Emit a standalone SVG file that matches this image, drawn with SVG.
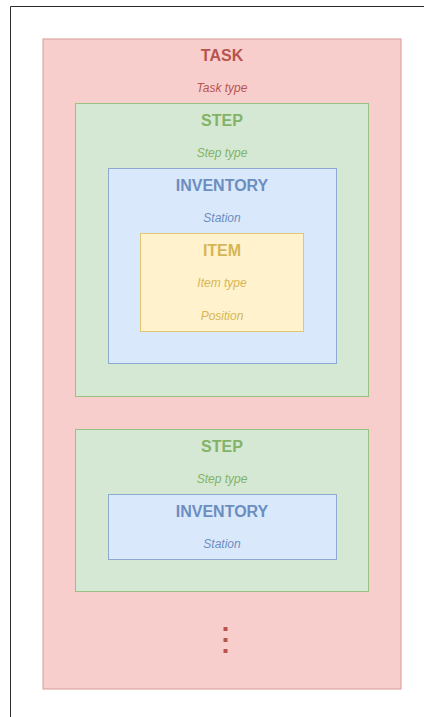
<svg xmlns="http://www.w3.org/2000/svg" width="424" height="717" viewBox="0 0 424 717">
<style>
.title{font-family:"Liberation Sans",Arial,sans-serif;font-size:16px;font-weight:bold;text-anchor:middle}
.sub{font-family:"Liberation Sans",Arial,sans-serif;font-size:12px;font-style:italic;text-anchor:middle}
.task .box{fill:#f8cecc;stroke:#d99a97}
.task text{fill:#b85450}
.dot{fill:#b85450;stroke:none}
.step .box{fill:#d5e8d4;stroke:#97c282}
.step text{fill:#82b366}
.inv .box{fill:#dae8fc;stroke:#8eaad3}
.inv text{fill:#6c8ebf}
.item .box{fill:#fff2cc;stroke:#e0c675}
.item text{fill:#d6b656}
</style>
<rect width="424" height="717" fill="#ffffff"/>
<path d="M10.5 717 V6.5 H424" fill="none" stroke="#2b2b2b" stroke-width="1"/>
<g id="task" class="task">
<rect class="box" x="43" y="39" width="358" height="650"/>
<text class="title" x="222" y="61">TASK</text>
<text class="sub" x="222" y="92">Task type</text>
<g id="dots">
<rect class="dot" x="223.5" y="627" width="4" height="4"/>
<rect class="dot" x="223.5" y="638" width="4" height="4"/>
<rect class="dot" x="223.5" y="649" width="4" height="4"/>
</g>
</g>
<g id="step1" class="step">
<rect class="box" x="75.5" y="103.5" width="293" height="293"/>
<text class="title" x="222" y="126">STEP</text>
<text class="sub" x="222" y="156.5">Step type</text>
</g>
<g id="inventory1" class="inv">
<rect class="box" x="108.5" y="168.5" width="228" height="195"/>
<text class="title" x="222" y="191">INVENTORY</text>
<text class="sub" x="222" y="221.5">Station</text>
</g>
<g id="item1" class="item">
<rect class="box" x="140.5" y="233.5" width="163" height="98"/>
<text class="title" x="222" y="256">ITEM</text>
<text class="sub" x="222" y="287">Item type</text>
<text class="sub" x="222" y="320">Position</text>
</g>
<g id="step2" class="step">
<rect class="box" x="75.5" y="429.5" width="293" height="162"/>
<text class="title" x="222" y="452">STEP</text>
<text class="sub" x="222" y="482.5">Step type</text>
</g>
<g id="inventory2" class="inv">
<rect class="box" x="108.5" y="494.5" width="228" height="65"/>
<text class="title" x="222" y="517">INVENTORY</text>
<text class="sub" x="222" y="547.5">Station</text>
</g>
<g id="connectors"/>
</svg>
